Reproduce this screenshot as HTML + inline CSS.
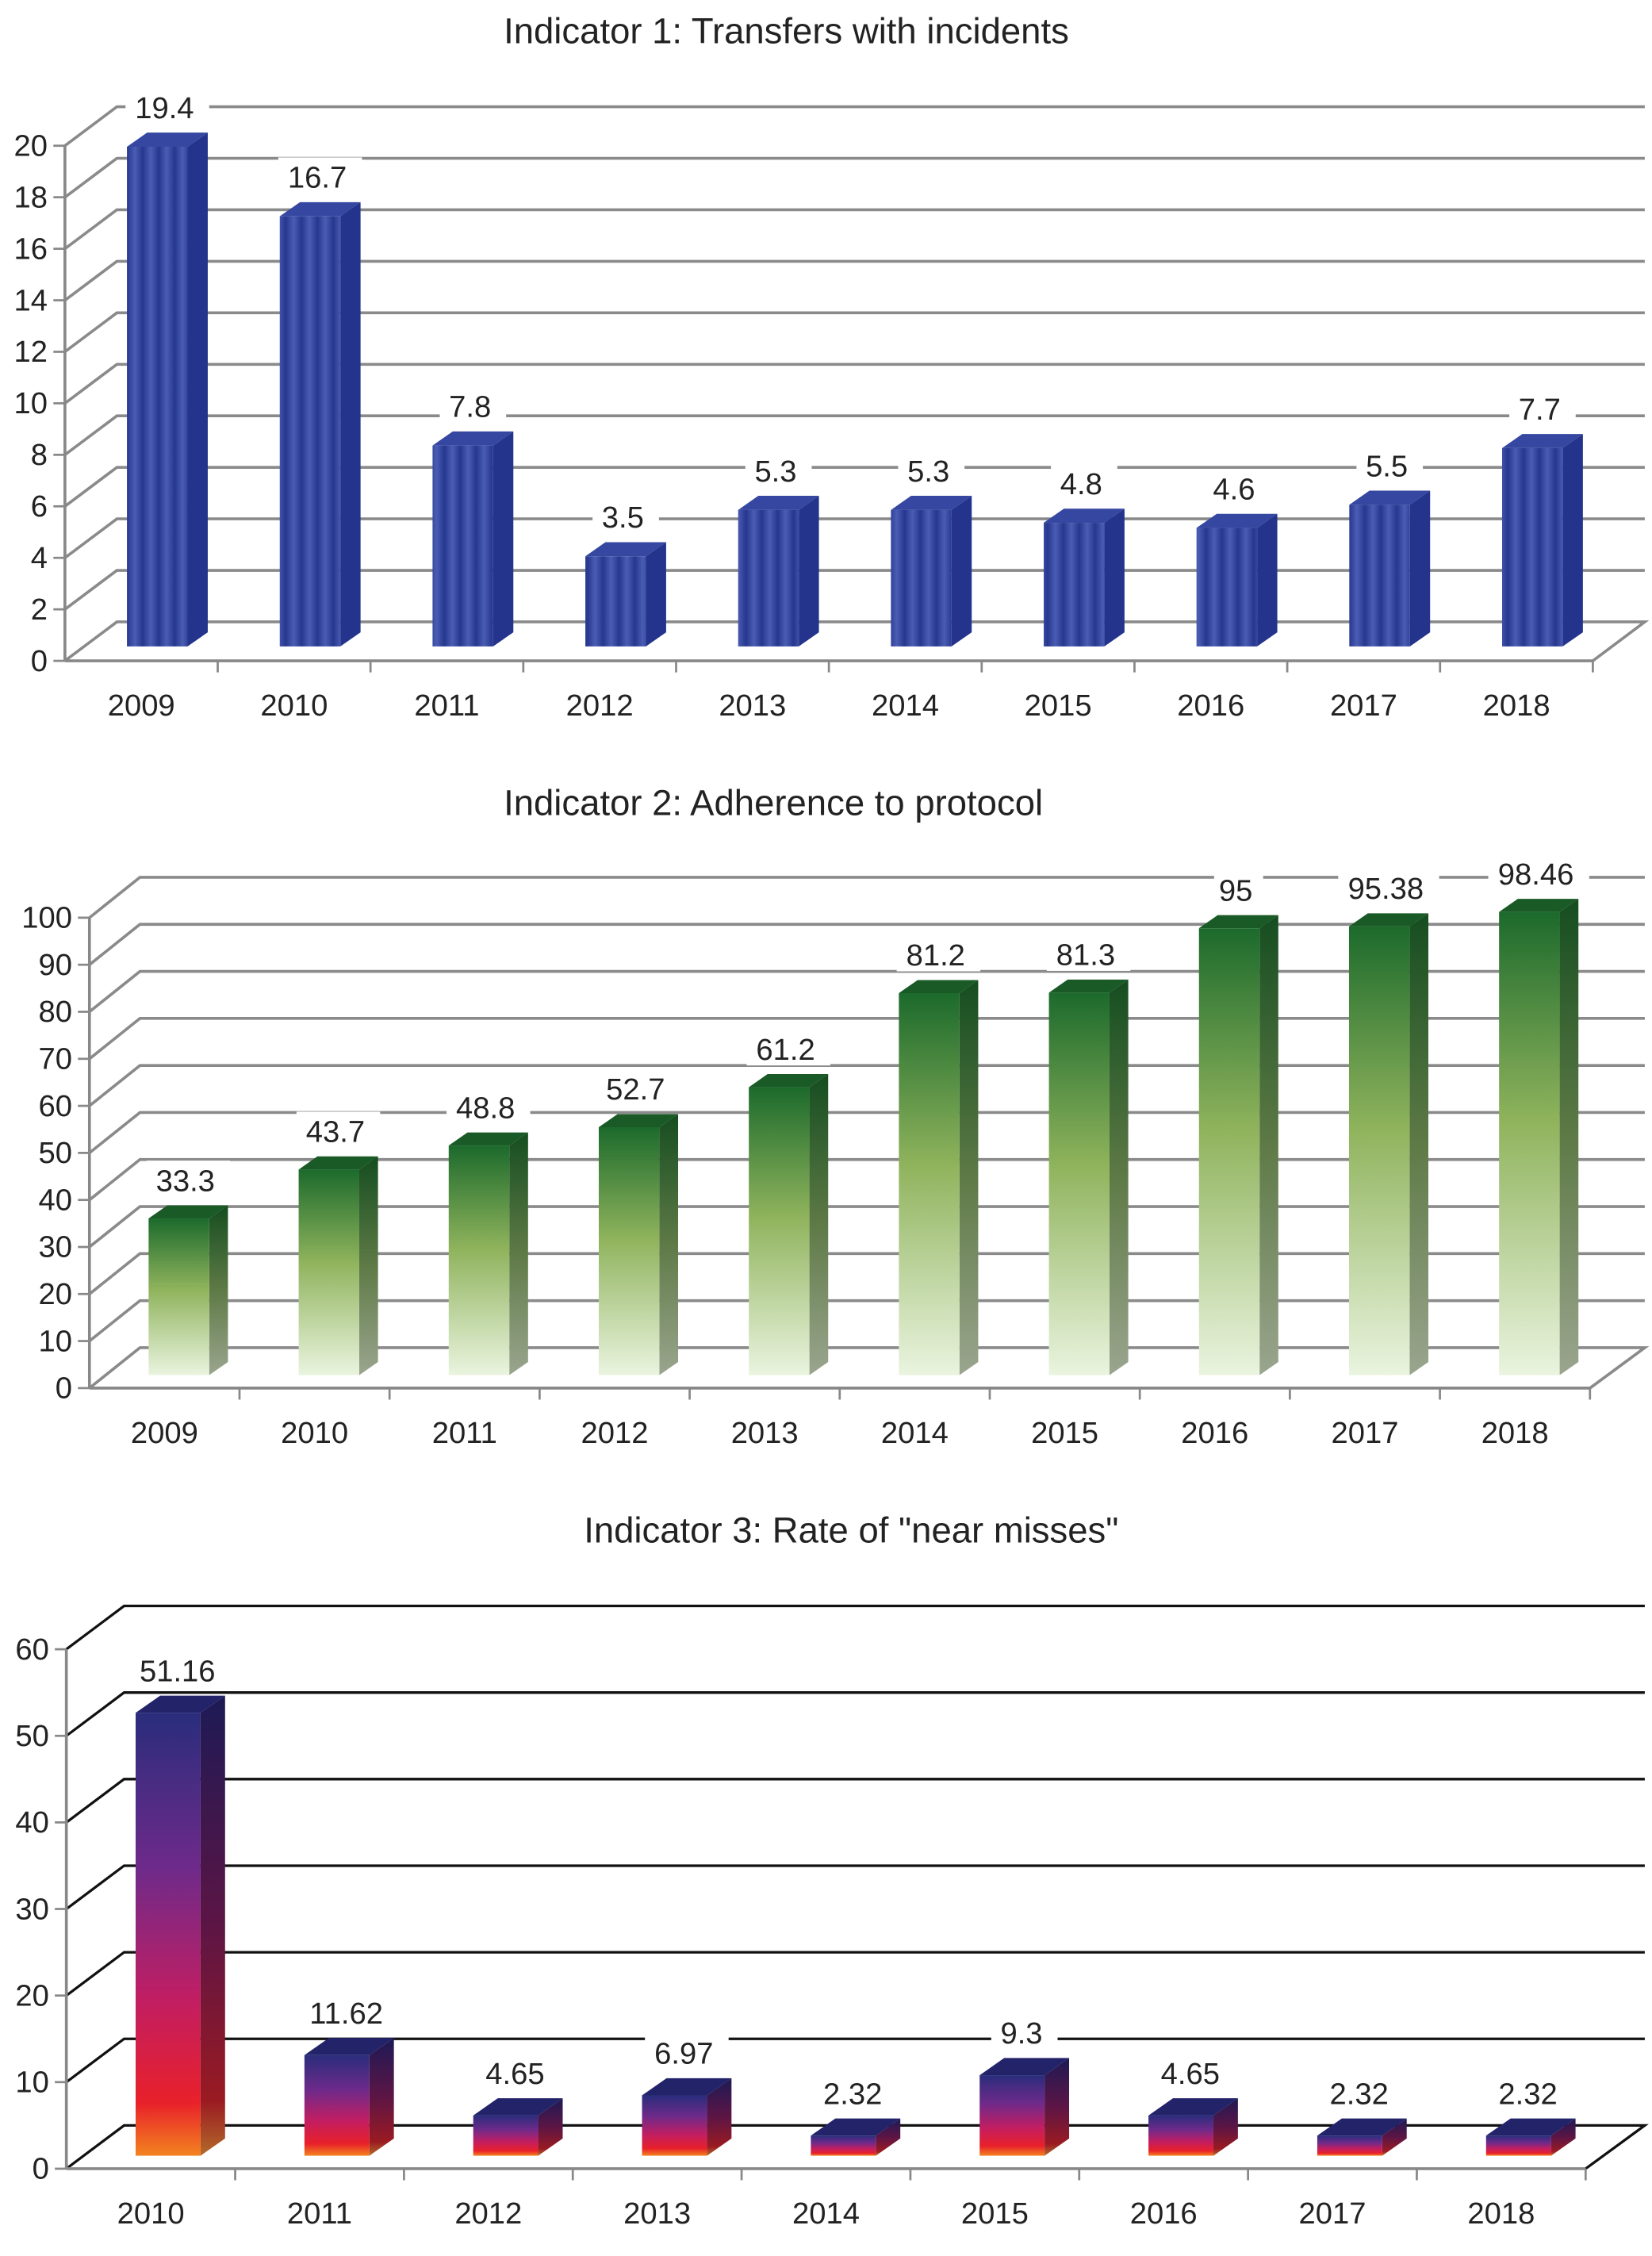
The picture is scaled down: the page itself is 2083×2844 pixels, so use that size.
<!DOCTYPE html>
<html><head><meta charset="utf-8"><style>
html,body{margin:0;padding:0;background:#fff}
svg{display:block}
text{font-family:"Liberation Sans",sans-serif;fill:#222}
</style></head><body>
<svg id="s" width="2083" height="2844" viewBox="0 0 1145 1563.5" preserveAspectRatio="none" xmlns="http://www.w3.org/2000/svg">
<defs>
<linearGradient id="stripe" x1="0" y1="0" x2="11" y2="0" gradientUnits="userSpaceOnUse" spreadMethod="repeat">
<stop offset="0" stop-color="#27378f"/><stop offset="0.5" stop-color="#4a5db3"/><stop offset="1" stop-color="#27378f"/></linearGradient>
<linearGradient id="g2" x1="0" y1="0" x2="0" y2="1"><stop offset="0" stop-color="#1c6a2c"/><stop offset="0.45" stop-color="#8fb35c"/><stop offset="1" stop-color="#eaf4df"/></linearGradient>
<linearGradient id="g2s" x1="0" y1="0" x2="0" y2="1"><stop offset="0" stop-color="#154d20"/><stop offset="0.5" stop-color="#5e7a46"/><stop offset="1" stop-color="#9aa58e"/></linearGradient>
<linearGradient id="g3" x1="0" y1="0" x2="0" y2="1"><stop offset="0" stop-color="#2a2d7c"/><stop offset="0.35" stop-color="#6e2a8a"/><stop offset="0.65" stop-color="#c21e62"/><stop offset="0.88" stop-color="#e8202a"/><stop offset="1" stop-color="#f3831f"/></linearGradient>
<linearGradient id="g3s" x1="0" y1="0" x2="0" y2="1"><stop offset="0" stop-color="#1d1a55"/><stop offset="0.5" stop-color="#5c1545"/><stop offset="0.88" stop-color="#9a1a22"/><stop offset="1" stop-color="#b36a2a"/></linearGradient>
</defs>
<text x="545" y="30" font-size="25" text-anchor="middle">Indicator 1: Transfers with incidents</text>
<text x="536" y="565" font-size="25" text-anchor="middle">Indicator 2: Adherence to protocol</text>
<text x="590" y="1069" font-size="25" text-anchor="middle">Indicator 3: Rate of "near misses"</text>
</svg>
<script>
const cats1=["2009","2010","2011","2012","2013","2014","2015","2016","2017","2018"];
const vals1=[19.4,16.7,7.8,3.5,5.3,5.3,4.8,4.6,5.5,7.7];
const labels1=["19.4","16.7","7.8","3.5","5.3","5.3","4.8","4.6","5.5","7.7"];
const ticks1=[0,2,4,6,8,10,12,14,16,18,20];
const cats2=["2009","2010","2011","2012","2013","2014","2015","2016","2017","2018"];
const vals2=[33.3,43.7,48.8,52.7,61.2,81.2,81.3,95,95.38,98.46];
const labels2=["33.3","43.7","48.8","52.7","61.2","81.2","81.3","95","95.38","98.46"];
const ticks2=[0,10,20,30,40,50,60,70,80,90,100];
const cats3=["2010","2011","2012","2013","2014","2015","2016","2017","2018"];
const vals3=[51.16,11.62,4.65,6.97,2.32,9.3,4.65,2.32,2.32];
const labels3=["51.16","11.62","4.65","6.97","2.32","9.3","4.65","2.32","2.32"];
const ticks3=[0,10,20,30,40,50,60];

const svg=document.getElementById('s');
const NS="http://www.w3.org/2000/svg";
function mk(tag,at,parent){const e=document.createElementNS(NS,tag);for(const k in at)e.setAttribute(k,at[k]);(parent||svg).appendChild(e);return e;}

function chart(o){
  const g=mk('g',{});
  
  
  const y=v=>o.y0-v*o.unit;
  const xEnd=o.ax+o.cats.length*o.sp;
  const right=1140;
  o.ticks.forEach(t=>{
    const yy=y(t);
    if(t>0){
      const l=mk('polyline',{points:`${o.ax},${yy} ${o.ax+o.dx},${yy+o.dy} ${right},${yy+o.dy}`,fill:'none',stroke:o.grid,'stroke-width':o.gw},g);
      
      
    } else {
      const f=mk('polyline',{points:`${o.ax},${yy} ${o.ax+o.dx},${yy+o.dy} ${right},${yy+o.dy} ${xEnd},${yy}`,fill:'none',stroke:o.grid,'stroke-width':o.gw},g);
      
      
    }
    mk('line',{x1:o.ax-8,y1:yy,x2:o.ax,y2:yy,stroke:'#888','stroke-width':1.5},g);
    const tl=mk('text',{x:o.ax-12,y:yy+7,'font-size':21,'text-anchor':'end'},g);
    tl.textContent=t;
    
    
  });
  const ya=mk('line',{x1:o.ax,y1:y(o.ticks[o.ticks.length-1]),x2:o.ax,y2:o.y0,stroke:'#888','stroke-width':2},g);
  
  
  const xa=mk('line',{x1:o.ax,y1:o.y0,x2:xEnd,y2:o.y0,stroke:'#888','stroke-width':2},g);
  
  
  o.cats.forEach((c,i)=>{
    const sx=o.ax+i*o.sp;
    mk('line',{x1:sx+o.sp,y1:o.y0,x2:sx+o.sp,y2:o.y0+8,stroke:'#888','stroke-width':1.5},g);
    const xl=mk('text',{x:sx+o.sp/2,y:o.y0+38,'font-size':21,'text-anchor':'middle'},g);
    xl.textContent=c;
    
    
    const v=o.vals[i];
    const bx=sx+o.off, base=o.y0-o.lift, top=base-v*o.unit, w=o.bw, d=o.dep, dv=-d*0.7;
    const bg=mk('g',{},g);
    
    
    mk('polygon',{points:`${bx+w},${base} ${bx+w+d},${base+dv} ${bx+w+d},${top+dv} ${bx+w},${top}`,fill:o.side},bg);
    mk('polygon',{points:`${bx},${top} ${bx+d},${top+dv} ${bx+w+d},${top+dv} ${bx+w},${top}`,fill:o.topc},bg);
    mk('rect',{x:bx,y:top,width:w,height:base-top,fill:o.front},bg);
    const lbl=o.labels[i];
    const ty=top+dv-10;
    const tw=lbl.length*12+10;
    mk('rect',{x:bx+w/2+d/2-tw/2,y:ty-21,width:tw,height:25,fill:'#fff'},g);
    const vl=mk('text',{x:bx+w/2+d/2-2,y:ty,'font-size':21,'text-anchor':'middle'},g);
    vl.textContent=lbl;
    
    
  });
}
chart({name:'chart-indicator-1',cats:cats1,vals:vals1,labels:labels1,ticks:ticks1,ax:45,y0:458,unit:17.85,dx:36,dy:-27,sp:105.9,off:43,bw:42,dep:14,lift:10,grid:'#8a8a8a',gw:2,front:'url(#stripe)',side:'#24348c',topc:'#3547a0'});
chart({name:'chart-indicator-2',cats:cats2,vals:vals2,labels:labels2,ticks:ticks2,ax:62,y0:962,unit:3.26,dx:35,dy:-28,sp:104,off:41,bw:42,dep:13,lift:9,grid:'#8a8a8a',gw:2,front:'url(#g2)',side:'url(#g2s)',topc:'#1a5a26'});
chart({name:'chart-indicator-3',cats:cats3,vals:vals3,labels:labels3,ticks:ticks3,ax:46,y0:1503,unit:6.0,dx:40,dy:-30,sp:117,off:48,bw:45,dep:17,lift:9,grid:'#111',gw:1.8,front:'url(#g3)',side:'url(#g3s)',topc:'#23236a'});
</script>
</body></html>
